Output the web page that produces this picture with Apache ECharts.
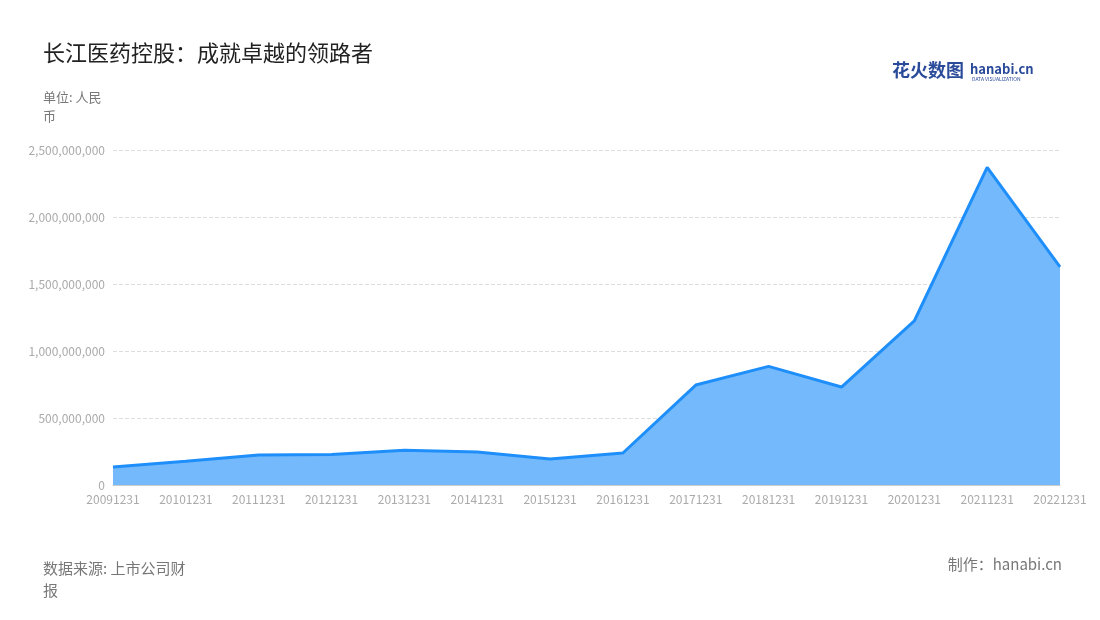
<!DOCTYPE html>
<html><head><meta charset="utf-8">
<script src="https://cdn.jsdelivr.net/npm/echarts@6/dist/echarts.min.js"></script>
<style>html,body{margin:0;padding:0;background:#fff}#c{width:1100px;height:620px}</style>
</head><body><div id="c"></div>
<script>
const categories = ['20091231','20101231','20111231','20121231','20131231','20141231','20151231','20161231','20171231','20181231','20191231','20201231','20211231','20221231'];
const values = [134000000,178000000,224000000,228000000,260000000,246000000,194000000,239000000,746000000,885000000,731000000,1224000000,2370000000,1627000000];
const chart = echarts.init(document.getElementById('c'));
const F = '"Noto Sans CJK SC","Noto Sans",sans-serif';
chart.setOption({
  animation:false,
  textStyle:{fontFamily:F},
  title:{text:'长江医药控股：成就卓越的领路者',left:38,top:37,textStyle:{fontSize:22,fontWeight:'normal',color:'#222',fontFamily:F}},
  graphic:[
    {type:'text',left:43,top:88,style:{text:'单位: 人民\n币',fontSize:13,lineHeight:19,fill:'#777',fontFamily:F}},
    {type:'text',left:43,top:557,style:{text:'数据来源: 上市公司财\n报',fontSize:15,lineHeight:22,fill:'#777',fontFamily:F}},
    {type:'text',right:38,top:557,style:{text:'制作：hanabi.cn',fontSize:15,fill:'#777',fontFamily:F}},
    {type:'text',left:892,top:61,style:{text:'花火数图',fontSize:18,fontWeight:'bold',fill:'#2a4a9a',fontFamily:F}},
    {type:'text',left:970,top:63,style:{text:'hanabi.cn',fontSize:13,fontWeight:'bold',fill:'#2a4a9a',fontFamily:F}},
    {type:'text',left:972,top:77,style:{text:'DATA VISUALIZATION',fontSize:5,fill:'#2a4a9a',fontFamily:F}}
  ],
  grid:{left:113,right:40,top:150,bottom:135},
  xAxis:{type:'category',data:categories,boundaryGap:false,
    axisLine:{lineStyle:{color:'#ccc'}},axisTick:{show:false},
    axisLabel:{color:'#aaa',fontSize:12,interval:0}},
  yAxis:{type:'value',min:0,max:2500000000,interval:500000000,
    axisLine:{show:false},axisTick:{show:false},
    axisLabel:{color:'#aaa',fontSize:12,formatter:v=>v.toLocaleString('en-US')},
    splitLine:{lineStyle:{type:'dashed',color:'#ddd'}}},
  series:[{type:'line',data:values,symbol:'none',
    lineStyle:{color:'#1e8ffa',width:3},
    areaStyle:{color:'#74b9fb',opacity:1}}]
});
</script></body></html>
